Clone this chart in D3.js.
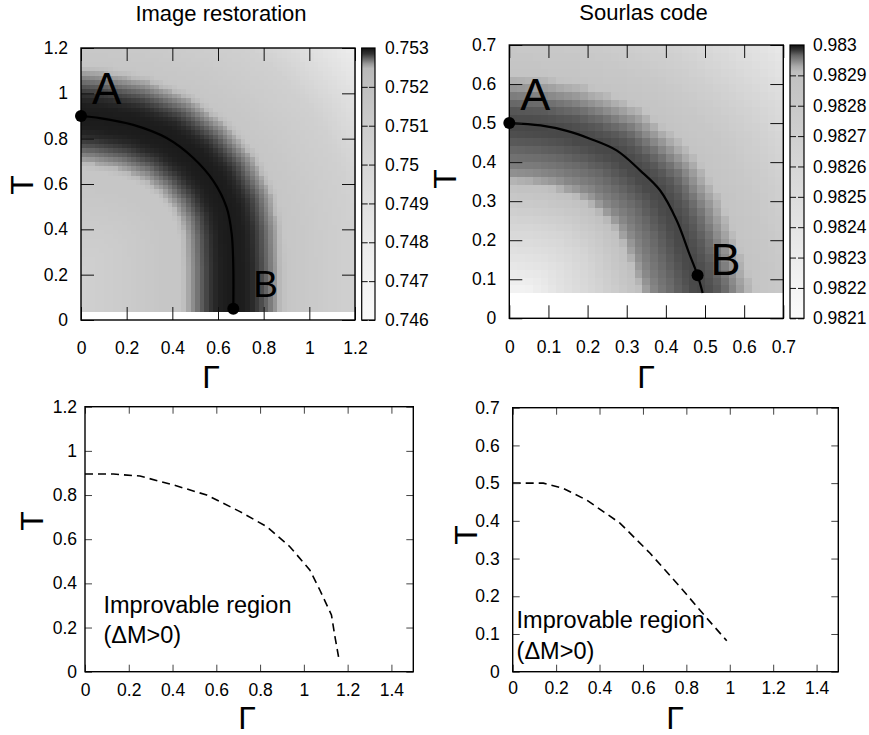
<!doctype html>
<html lang="en">
<head>
<meta charset="utf-8"/>
<title>Image restoration / Sourlas code</title>
<script src="https://d3js.org/d3.v7.min.js"></script>
<style>
  body { margin: 0; background: #fff; }
  text { font-family: "Liberation Sans", Arial, sans-serif; fill: #000; }
</style>
</head>
<body>
<svg id="chart" width="869" height="735"></svg>
<script>
// ---- values ----

// tick labels
const gammaTicksImage = [0, 0.2, 0.4, 0.6, 0.8, 1, 1.2];
const tTicksImage = [0, 0.2, 0.4, 0.6, 0.8, 1, 1.2];
const cbTicksImage = [0.746, 0.747, 0.748, 0.749, 0.75, 0.751, 0.752, 0.753];
const gammaTicksSourlas = [0, 0.1, 0.2, 0.3, 0.4, 0.5, 0.6, 0.7];
const tTicksSourlas = [0, 0.1, 0.2, 0.3, 0.4, 0.5, 0.6, 0.7];
const cbTicksSourlas = [0.9821, 0.9822, 0.9823, 0.9824, 0.9825, 0.9826, 0.9827, 0.9828, 0.9829, 0.983];
const gammaTicksLower = [0, 0.2, 0.4, 0.6, 0.8, 1, 1.2, 1.4];

// ridge of the overlap (solid line), [Gamma, T]
const ridgeImage = [[0, 0.9], [0.083, 0.891], [0.229, 0.861], [0.375, 0.803], [0.492, 0.715],
  [0.58, 0.613], [0.638, 0.496], [0.66, 0.38], [0.667, 0.233], [0.667, 0.05]];
const ridgeSourlas = [[0, 0.5], [0.08, 0.494], [0.147, 0.48], [0.206, 0.46], [0.274, 0.43],
  [0.334, 0.379], [0.385, 0.328], [0.428, 0.25], [0.46, 0.165], [0.481, 0.11], [0.494, 0.065]];

// marked points
const pointsImage = [["A", 0, 0.9], ["B", 0.667, 0.05]];
const pointsSourlas = [["A", 0, 0.5], ["B", 0.481, 0.11]];

// heat map value against distance from the ridge (inside / outside of it)
const inDistImage = [0, 0.05, 0.08, 0.10, 0.12, 0.14, 0.16, 0.18, 0.20, 0.22, 0.23, 0.3, 0.67, 1.0];
const inValImage = [0.75296, 0.752943, 0.752899, 0.75284, 0.752796, 0.752738, 0.752674, 0.75261,
  0.752524, 0.752, 0.7515, 0.7515, 0.7506, 0.7505];
const outDistImage = [0, 0.05, 0.08, 0.10, 0.12, 0.14, 0.16, 0.18, 0.20, 0.22, 0.23, 0.3, 0.53, 0.85, 1.2];
const outValImage = [0.75296, 0.752943, 0.752899, 0.75284, 0.752796, 0.752738, 0.752674, 0.75261,
  0.752524, 0.752, 0.7515, 0.75133, 0.7506, 0.7477, 0.7474];

const inDistSourlas = [0, 0.02, 0.04, 0.06, 0.08, 0.10, 0.12, 0.14, 0.16, 0.25, 0.35, 0.43, 0.55];
const inValSourlas = [0.982977, 0.982976, 0.982972, 0.982968, 0.982962, 0.982956, 0.982948, 0.982933,
  0.98289, 0.98263, 0.9824, 0.9822, 0.98213];
const outDistSourlas = [0, 0.02, 0.04, 0.06, 0.08, 0.10, 0.12, 0.13, 0.2, 0.28, 0.48, 0.7];
const outValSourlas = [0.982977, 0.982974, 0.98297, 0.982962, 0.982948, 0.982935, 0.982917, 0.982857,
  0.9828, 0.98269, 0.98235, 0.98225];

// grey palettes of the colour boxes
const palValsImage = [0.746, 0.747, 0.748, 0.749, 0.750, 0.751, 0.752, 0.75247, 0.75259, 0.75272, 0.75285, 0.753];
const palGraysImage = [250, 243, 234, 224, 214, 204, 192, 184, 153, 102, 51, 17];
const palValsSourlas = [0.9821, 0.9822, 0.9823, 0.9824, 0.9825, 0.9826, 0.9827, 0.9828, 0.9829,
  0.982912, 0.98293, 0.982948, 0.982966, 0.982984, 0.983];
const palGraysSourlas = [251, 244, 236, 228, 221, 214, 207, 200, 193, 190, 170, 136, 102, 51, 17];

// improvable-region boundaries (dashed)
const boundaryImage = [[0, 0.895], [0.13, 0.895], [0.251, 0.886], [0.403, 0.846], [0.556, 0.8],
  [0.708, 0.725], [0.83, 0.657], [0.936, 0.566], [1.027, 0.461], [1.073, 0.37], [1.126, 0.257],
  [1.142, 0.159], [1.161, 0.053]];
const boundarySourlas = [[0, 0.5], [0.141, 0.5], [0.233, 0.486], [0.341, 0.455], [0.494, 0.394],
  [0.633, 0.314], [0.771, 0.225], [0.894, 0.142], [0.986, 0.082]];

const noteLines = ["Improvable region", "(\u0394M>0)"];
const notePosImage = [[0.084, 0.266], [0.084, 0.129]];
const notePosSourlas = [[0.018, 0.115], [0.018, 0.035]];

// ---- drawing ----
const svg = d3.select("#chart");
const defs = svg.append("defs");
const grey = g => { const k = Math.round(g); return d3.rgb(k, k, k).formatHex(); };

function distToPolyline(p, pts) {
  let best = Infinity;
  for (let i = 0; i < pts.length - 1; i++) {
    const [ax, ay] = pts[i], [bx, by] = pts[i + 1];
    const dx = bx - ax, dy = by - ay;
    const L = dx * dx + dy * dy;
    let t = L ? ((p[0] - ax) * dx + (p[1] - ay) * dy) / L : 0;
    t = Math.max(0, Math.min(1, t));
    best = Math.min(best, Math.hypot(ax + t * dx - p[0], ay + t * dy - p[1]));
  }
  return best;
}

function axes(x, y, box, gt, tt, o) {
  const [x0, y0, x1, y1] = box;
  const fs = 17.5;
  const style = g => {
    g.select(".domain").remove();
    g.selectAll("line").attr("stroke", o.tickColor).attr("stroke-width", 1);
    g.selectAll("text").attr("font-size", fs).attr("fill", "#000");
    g.attr("font-family", null);
  };
  svg.append("g").attr("transform", `translate(0,${y1})`)
    .call(d3.axisBottom(x).tickValues(gt).tickFormat(d3.format("~g"))
      .tickSizeInner(-o.tick).tickSizeOuter(0).tickPadding(o.xPad)).call(style);
  svg.append("g").attr("transform", `translate(0,${y0})`)
    .call(d3.axisTop(x).tickValues(gt).tickFormat("").tickSizeInner(-o.tick).tickSizeOuter(0)).call(style);
  svg.append("g").attr("transform", `translate(${x0},0)`)
    .call(d3.axisLeft(y).tickValues(tt).tickFormat(d3.format("~g"))
      .tickSizeInner(-o.tick).tickSizeOuter(0).tickPadding(o.yPad)).call(style);
  svg.append("g").attr("transform", `translate(${x1},0)`)
    .call(d3.axisRight(y).tickValues(tt).tickFormat("").tickSizeInner(-o.tick).tickSizeOuter(0)).call(style);
  svg.append("rect").attr("x", x0).attr("y", y0).attr("width", x1 - x0).attr("height", y1 - y0)
    .attr("fill", "none").attr("stroke", "#000").attr("stroke-width", 1.4);

  svg.append("text").attr("x", o.gLabel[0]).attr("y", o.gLabel[1])
    .attr("text-anchor", "middle").attr("font-size", 32).text("\u0393");
  svg.append("text").attr("transform", `translate(${o.tLabel[0]},${o.tLabel[1]}) rotate(-90)`)
    .attr("text-anchor", "middle").attr("dominant-baseline", "central").attr("font-size", 32).text("T");
}

function heatPanel(o) {
  const [x0, y0, x1, y1] = o.box;
  const x = d3.scaleLinear().domain(o.gDom).range([x0, x1]);
  const y = d3.scaleLinear().domain(o.tDom).range([y1, y0]);
  const pal = d3.scaleLinear().domain(o.palVals).range(o.palGrays).clamp(true);
  const inner = d3.scaleLinear().domain(o.inDist).range(o.inVal).clamp(true);
  const outer = d3.scaleLinear().domain(o.outDist).range(o.outVal).clamp(true);
  const last = o.ridge[o.ridge.length - 1];
  const poly = o.ridge.concat([[last[0], 0], [0, 0]]);

  const gw = (o.heatG[1] - o.heatG[0]) / o.cols, tw = (o.heatT[1] - o.heatT[0]) / o.rows;
  const cells = [];
  d3.range(o.rows).forEach(j => d3.range(o.cols).forEach(i => {
    const g0 = o.heatG[0] + i * gw, t0 = o.heatT[0] + j * tw;
    const c = [g0 + gw / 2, t0 + tw / 2];
    const d = distToPolyline(c, o.ridge);
    cells.push({ g0, t0, v: d3.polygonContains(poly, c) ? inner(d) : outer(d) });
  }));
  svg.append("g").selectAll("rect").data(cells).join("rect")
    .attr("x", d => x(d.g0)).attr("y", d => y(d.t0 + tw))
    .attr("width", x(gw) - x(0) + 0.6).attr("height", y(0) - y(tw) + 0.6)
    .attr("fill", d => grey(pal(d.v)))
    .attr("shape-rendering", "crispEdges");

  // ridge line and points
  svg.append("path").datum(o.ridge)
    .attr("d", d3.line().x(d => x(d[0])).y(d => y(d[1])).curve(d3.curveCatmullRom))
    .attr("fill", "none").attr("stroke", "#000").attr("stroke-width", 2.2);

  axes(x, y, o.box, o.gTicks, o.tTicks, { tick: 13, tickColor: "#111", xPad: o.xPad, yPad: 13,
    gLabel: o.gLabel, tLabel: o.tLabel });

  svg.append("g").selectAll("circle").data(o.points).join("circle")
    .attr("cx", d => x(d[1])).attr("cy", d => y(d[2])).attr("r", 6).attr("fill", "#000");
  svg.append("g").selectAll("text").data(o.points).join("text")
    .attr("x", (d, i) => x(d[1]) + o.letterOff[i][0]).attr("y", (d, i) => y(d[2]) + o.letterOff[i][1])
    .attr("font-size", (d, i) => o.letterSize[i]).text(d => d[0]);

  // title
  svg.append("text").attr("x", o.titlePos[0]).attr("y", o.titlePos[1])
    .attr("text-anchor", "middle").attr("font-size", 22).text(o.title);

  // colour box
  const [cx0, cy0, cx1, cy1] = o.cbBox;
  const cb = d3.scaleLinear().domain([o.cbTicks[0], o.cbTicks[o.cbTicks.length - 1]]).range([cy1, cy0]);
  const lo = o.palVals[0], hi = o.palVals[o.palVals.length - 1];
  const grad = defs.append("linearGradient").attr("id", o.id + "-grad")
    .attr("x1", 0).attr("x2", 0).attr("y1", 1).attr("y2", 0);
  grad.selectAll("stop").data(o.palVals).join("stop")
    .attr("offset", v => (v - lo) / (hi - lo))
    .attr("stop-color", (v, i) => grey(o.palGrays[i]));
  svg.append("rect").attr("x", cx0).attr("y", cb(hi)).attr("width", cx1 - cx0).attr("height", cb(lo) - cb(hi))
    .attr("fill", `url(#${o.id}-grad)`);
  const cbStyle = g => {
    g.select(".domain").remove();
    g.selectAll("line").attr("stroke", "#111");
    g.selectAll("text").attr("font-size", 17.5).attr("fill", "#000");
    g.attr("font-family", null);
  };
  svg.append("g").attr("transform", `translate(${cx1},0)`)
    .call(d3.axisRight(cb).tickValues(o.cbTicks).tickFormat(d3.format("~g"))
      .tickSizeInner(-6).tickSizeOuter(0).tickPadding(o.cbPad)).call(cbStyle);
  svg.append("g").attr("transform", `translate(${cx0},0)`)
    .call(d3.axisLeft(cb).tickValues(o.cbTicks).tickFormat("").tickSizeInner(-6).tickSizeOuter(0)).call(cbStyle);
  svg.append("rect").attr("x", cx0).attr("y", cy0).attr("width", cx1 - cx0).attr("height", cy1 - cy0)
    .attr("fill", "none").attr("stroke", "#000").attr("stroke-width", 1.2);
}

function linePanel(o) {
  const [x0, y0, x1, y1] = o.box;
  const x = d3.scaleLinear().domain(o.gDom).range([x0, x1]);
  const y = d3.scaleLinear().domain(o.tDom).range([y1, y0]);

  svg.append("path").datum(o.boundary)
    .attr("d", d3.line().x(d => x(d[0])).y(d => y(d[1])))
    .attr("fill", "none").attr("stroke", "#000").attr("stroke-width", 1.6)
    .attr("stroke-dasharray", "8,5");

  axes(x, y, o.box, o.gTicks, o.tTicks, { tick: 7, tickColor: "#444", xPad: o.xPad, yPad: o.yPad,
    gLabel: o.gLabel, tLabel: o.tLabel });

  svg.append("g").selectAll("text").data(noteLines).join("text")
    .attr("x", (d, i) => x(o.notePos[i][0])).attr("y", (d, i) => y(o.notePos[i][1]))
    .attr("font-size", 23.5).text(d => d);
}

heatPanel({
  id: "img", title: "Image restoration", titlePos: [221, 21],
  box: [81, 48, 355, 320], gDom: [0, 1.2], tDom: [0, 1.2],
  gTicks: gammaTicksImage, tTicks: tTicksImage, xPad: 22,
  heatG: [0, 1.2], heatT: [0.04, 1.2], cols: 60, rows: 58,
  ridge: ridgeImage, points: pointsImage,
  letterOff: [[11, -12], [20, -12]], letterSize: [44, 37],
  inDist: inDistImage, inVal: inValImage, outDist: outDistImage, outVal: outValImage,
  palVals: palValsImage, palGrays: palGraysImage,
  cbBox: [361.7, 48, 375, 320], cbTicks: cbTicksImage, cbPad: 10,
  gLabel: [211, 388], tLabel: [22, 185]
});

heatPanel({
  id: "sour", title: "Sourlas code", titlePos: [643.5, 20],
  box: [509.3, 45, 783.3, 318.3], gDom: [0, 0.7], tDom: [0, 0.7],
  gTicks: gammaTicksSourlas, tTicks: tTicksSourlas, xPad: 22,
  heatG: [0, 0.7], heatT: [0.066, 0.7], cols: 35, rows: 32,
  ridge: ridgeSourlas, points: pointsSourlas,
  letterOff: [[11, -13], [13, 0]], letterSize: [45, 45],
  inDist: inDistSourlas, inVal: inValSourlas, outDist: outDistSourlas, outVal: outValSourlas,
  palVals: palValsSourlas, palGrays: palGraysSourlas,
  cbBox: [790, 45, 804, 318.3], cbTicks: cbTicksSourlas, cbPad: 9,
  gLabel: [646, 388], tLabel: [445, 179]
});

linePanel({
  box: [85, 406.7, 413.3, 671.7], gDom: [0, 1.5], tDom: [0, 1.2],
  gTicks: gammaTicksLower, tTicks: tTicksImage, xPad: 12, yPad: 8,
  boundary: boundaryImage, notePos: notePosImage,
  gLabel: [247, 729], tLabel: [32, 521]
});

linePanel({
  box: [512.7, 407.7, 838.3, 671.7], gDom: [0, 1.5], tDom: [0, 0.7],
  gTicks: gammaTicksLower, tTicks: tTicksSourlas, xPad: 10, yPad: 13,
  boundary: boundarySourlas, notePos: notePosSourlas,
  gLabel: [675, 729], tLabel: [466, 535]
});
</script>
</body>
</html>
